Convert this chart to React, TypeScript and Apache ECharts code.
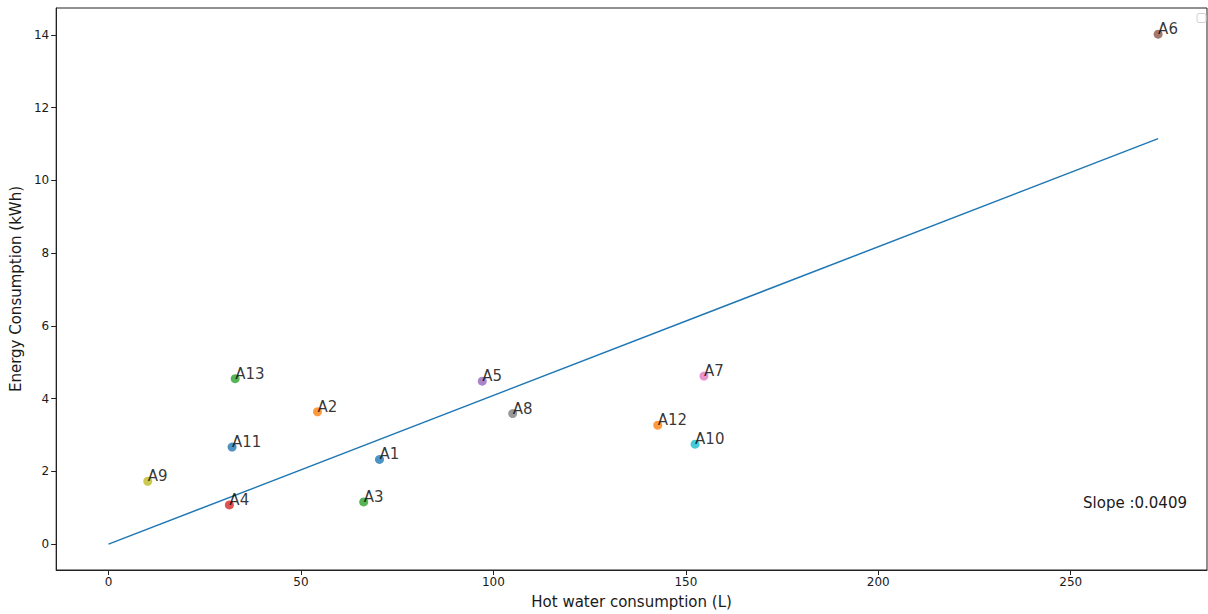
import React, { useEffect, useRef } from "react";
import * as echarts from "echarts";

const names = ["A1", "A2", "A3", "A4", "A5", "A6", "A7", "A8", "A9", "A10", "A11", "A12", "A13"];
const hotWater = [70.4, 54.3, 66.3, 31.4, 97.1, 272.7, 154.7, 105.0, 10.2, 152.4, 32.1, 142.7, 32.9];
const energy = [2.33, 3.64, 1.16, 1.08, 4.48, 14.02, 4.62, 3.59, 1.73, 2.75, 2.67, 3.27, 4.55];
const colors = [
  "#1f77b4", "#ff7f0e", "#2ca02c", "#d62728", "#9467bd", "#8c564b", "#e377c2",
  "#7f7f7f", "#bcbd22", "#17becf", "#1f77b4", "#ff7f0e", "#2ca02c",
];
const fitLine = [
  [0, 0],
  [272.7, 11.15],
];
const xTicks = [0, 50, 100, 150, 200, 250];
const yTicks = [0, 2, 4, 6, 8, 10, 12, 14];
const slopeText = "Slope :0.0409";

const FONT = "DejaVu Sans";

export default function App() {
  const ref = useRef<HTMLDivElement>(null);
  useEffect(() => {
    document.body.style.margin = "0";
    document.body.style.overflow = "hidden";
    if (!ref.current) return;
    const chart = echarts.init(ref.current, null, { renderer: "svg" });
    const pts = names.map((n, i) => ({
      name: n,
      value: [hotWater[i], energy[i]],
      itemStyle: { color: colors[i] },
    }));
    chart.setOption({
      animation: false,
      backgroundColor: "#fff",
      textStyle: { fontFamily: FONT },
      grid: {
        left: 56,
        right: 1,
        top: 8,
        bottom: 43,
        show: true,
        borderColor: "#222",
        borderWidth: 1,
      },
      xAxis: {
        type: "value",
        min: -13.6,
        max: 285.4,
        name: "Hot water consumption (L)",
        nameLocation: "middle",
        nameGap: 24,
        nameTextStyle: { fontFamily: FONT, fontSize: 15, color: "#1a1a1a" },
        axisLine: { show: true, onZero: false, lineStyle: { color: "#222" } },
        axisTick: { show: true, length: 5, customValues: xTicks, lineStyle: { color: "#222" } },
        axisLabel: {
          customValues: xTicks,
          fontFamily: FONT,
          fontSize: 12,
          color: "#1a1a1a",
          margin: 6,
        },
        splitLine: { show: false },
      },
      yAxis: {
        type: "value",
        min: -0.71,
        max: 14.74,
        name: "Energy Consumption (kWh)",
        nameLocation: "middle",
        nameGap: 24,
        nameTextStyle: { fontFamily: FONT, fontSize: 15, color: "#1a1a1a" },
        axisLine: { show: true, onZero: false, lineStyle: { color: "#222" } },
        axisTick: { show: true, length: 5, customValues: yTicks, lineStyle: { color: "#222" } },
        axisLabel: {
          customValues: yTicks,
          fontFamily: FONT,
          fontSize: 12,
          color: "#1a1a1a",
          margin: 7,
        },
        splitLine: { show: false },
      },
      series: [
        {
          type: "line",
          data: fitLine,
          showSymbol: false,
          symbol: "none",
          lineStyle: { color: "#1f77b4", width: 1.5 },
          z: 1,
        },
        {
          type: "scatter",
          data: pts,
          symbolSize: 9,
          z: 2,
          label: {
            show: true,
            formatter: (p: any) => p.name,
            position: [4.5, 7],
            align: "left",
            verticalAlign: "bottom",
            fontFamily: FONT,
            fontSize: 15,
            color: "#000",
          },
        },
      ],
      graphic: [
        {
          type: "rect",
          shape: { x: 1197, y: 13.5, width: 9, height: 9, r: 2 },
          style: { fill: "#fff", stroke: "#d0d0d0", lineWidth: 1 },
        },
        {
          type: "text",
          x: 1187,
          y: 503,
          style: {
            text: slopeText,
            fontFamily: FONT,
            fontSize: 15,
            fill: "#1a1a1a",
            align: "right",
            verticalAlign: "middle",
          },
        },
      ],
    });
    return () => chart.dispose();
  }, []);
  return (
    <div
      ref={ref}
      style={{ position: "absolute", left: 0, top: 0, width: 1208, height: 614 }}
    />
  );
}
